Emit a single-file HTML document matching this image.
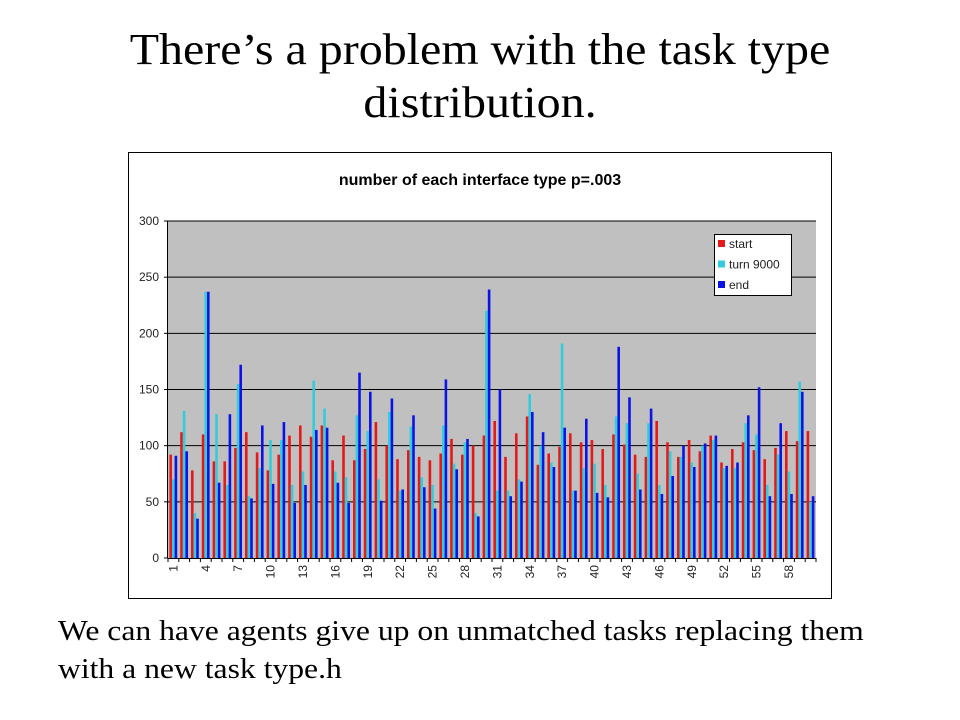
<!DOCTYPE html>
<html><head><meta charset="utf-8"><style>
body{margin:0;width:960px;height:720px;background:#fff;position:relative;overflow:hidden;font-family:"Liberation Serif",serif}
.t{position:absolute;left:0;width:960px;text-align:center;font-size:44px;color:#000;transform:scaleX(1.09);transform-origin:480px 0}
.b{position:absolute;left:58px;font-size:28px;color:#000;white-space:nowrap;transform:scaleX(1.13);transform-origin:0 0}
</style></head><body>
<div class="t" style="top:24px">There’s a problem with the task type</div>
<div class="t" style="top:77px">distribution.</div>
<svg id="chart" width="960" height="720" style="position:absolute;left:0;top:0" font-family="Liberation Sans, sans-serif"></svg>
<div class="b" style="top:616px">We can have agents give up on unmatched tasks replacing them</div>
<div class="b" style="top:654px">with a new task type.h</div>
<script>
const categories = Array.from({length:60},(_, i)=>String(i+1));
const startVals = [92,112,78,110,86,86,98,112,94,78,92,109,118,108,118,87,109,87,97,121,100,88,96,90,87,93,106,92,100,109,122,90,111,126,83,93,99,111,103,105,97,110,101,92,90,122,103,90,105,95,109,85,97,103,96,88,98,113,104,113];
const turnVals = [70,131,40,237,128,65,155,55,80,105,105,65,77,158,133,77,72,127,113,70,130,60,117,72,65,118,84,103,40,220,60,60,70,146,100,85,191,60,80,84,65,126,120,75,120,65,95,90,85,100,105,80,80,120,110,65,92,77,157,50];
const endVals = [91,95,35,237,67,128,172,53,118,66,121,49,65,114,116,67,49,165,148,51,142,61,127,63,44,159,79,106,37,239,150,55,68,130,112,81,116,60,124,58,54,188,143,61,133,57,73,100,81,102,109,82,85,127,152,55,120,57,148,55];
const yTicks = [0,50,100,150,200,250,300];
const seriesNames = ["start","turn 9000","end"];
const colors = ["#e41a1a","#33ccdd","#0a14e6"];
const svg = document.getElementById('chart');
const NS = "http://www.w3.org/2000/svg";
const X0=168,X1=816,Y0=558,Y1=221,YMAX=300;
const bw=(X1-X0)/categories.length;
function y(v){return Y0-(v/YMAX)*(Y0-Y1);}
function x(i){return X0+i*bw;}
function mk(tag,attrs){const e=document.createElementNS(NS,tag);for(const k in attrs)e.setAttribute(k,attrs[k]);svg.appendChild(e);return e;}
let e;
e=mk('rect',{x:128.5,y:152.5,width:703,height:446,fill:'#fff',stroke:'#000','stroke-width':1});


e=mk('rect',{x:X0,y:Y1,width:X1-X0,height:Y0-Y1,fill:'#c0c0c0'});


e=mk('text',{x:480,y:185,'text-anchor':'middle','font-size':16,'font-weight':'bold'});
e.textContent='number of each interface type p=.003';


yTicks.forEach(t=>{
  if(t>0){e=mk('line',{x1:X0,x2:X1,y1:y(t),y2:y(t),stroke:'#000','stroke-width':1});
  
  }
  e=mk('line',{x1:X0-4,x2:X0,y1:y(t),y2:y(t),stroke:'#000'});
  
  
  e=mk('text',{x:X0-9,y:y(t)+4,'text-anchor':'end','font-size':12,fill:'#222'});
  e.textContent=t;
  
  
});
const series=[startVals,turnVals,endVals];
const w=2.6;
categories.forEach((c,i)=>{
  series.forEach((s,k)=>{
    e=mk('rect',{x:x(i)+1.4+k*w,y:y(s[i]),width:w,height:Y0-y(s[i]),fill:colors[k]});
    
    
  });
  e=mk('line',{x1:x(i),x2:x(i),y1:Y0,y2:Y0+4,stroke:'#000'});
  
  
  if(i%3===0){
    const cx=x(i)+bw/2+4,cy=Y0+7;
    e=mk('text',{x:cx,y:cy,'text-anchor':'end','font-size':12,fill:'#222',transform:`rotate(-90 ${cx} ${cy})`});
    e.textContent=c;
    
    
  }
});
e=mk('line',{x1:X1,x2:X1,y1:Y0,y2:Y0+4,stroke:'#000'});


e=mk('line',{x1:X0,x2:X1,y1:Y0+0.5,y2:Y0+0.5,stroke:'#000'});


e=mk('line',{x1:X0-0.5,x2:X0-0.5,y1:Y1,y2:Y0,stroke:'#000'});


e=mk('rect',{x:714.5,y:234.5,width:77,height:61,fill:'#fff',stroke:'#000'});


seriesNames.forEach((n,k)=>{
  const ly=244+k*20.5;
  e=mk('rect',{x:718,y:ly-4,width:7,height:7,fill:colors[k]});
  
  
  e=mk('text',{x:729,y:ly+4,'font-size':12,fill:'#222'});
  e.textContent=n;
  
  
});
</script>
</body></html>
